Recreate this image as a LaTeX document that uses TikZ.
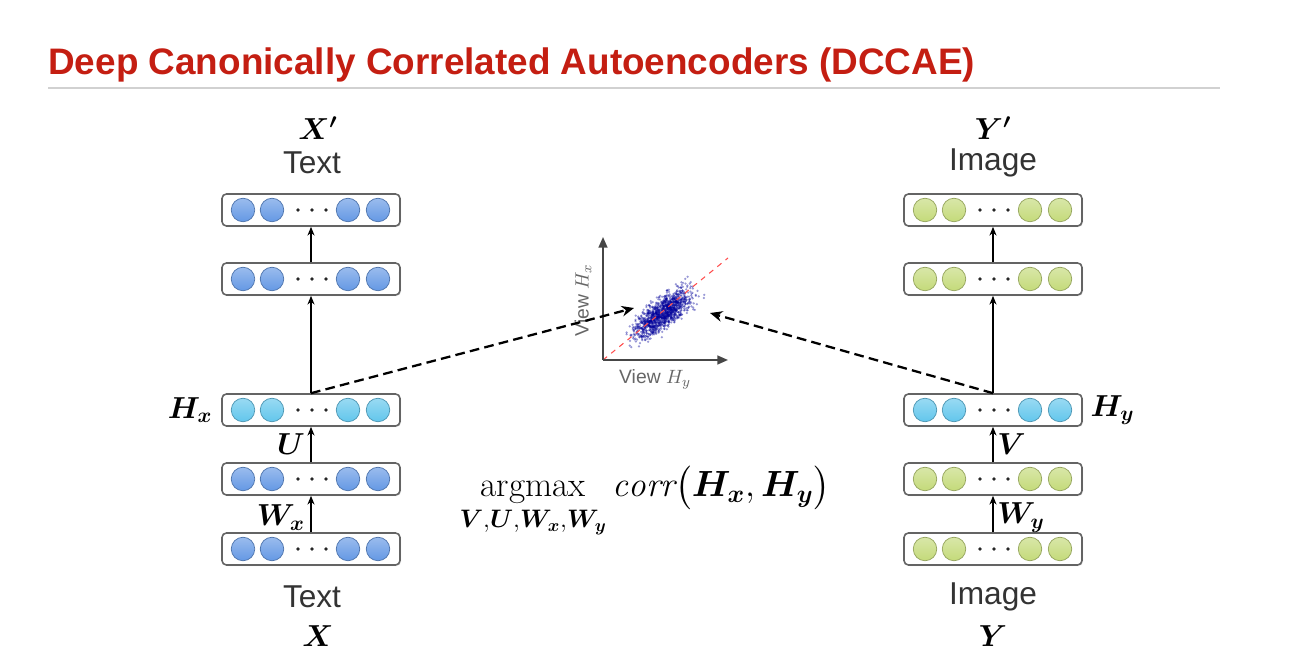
\documentclass[tikz,border=0pt]{standalone}
\usepackage{amsmath}
\usepackage{bm}
\usepackage{fontspec}
\usetikzlibrary{arrows.meta, positioning, shadows}
\newfontfamily\arial{Liberation Sans}
\definecolor{titlered}{RGB}{196,30,18}
\definecolor{unitblue}{RGB}{100,152,228}
\definecolor{unitcyan}{RGB}{98,198,236}
\definecolor{unitgreen}{RGB}{196,218,122}
\definecolor{boxgray}{RGB}{100,100,100}
\definecolor{axisgray}{RGB}{70,70,70}

\begin{document}
\begin{tikzpicture}[
    x=0.02cm, y=-0.02cm,
    layer/.style={draw=boxgray, line width=0.9pt, rounded corners=2.5pt, fill=white,
        minimum width=3.56cm, minimum height=0.64cm, inner sep=0pt,
        drop shadow={opacity=0.2, shadow xshift=0.6pt, shadow yshift=-0.6pt}},
    unit/.style={line width=0.4pt},
    uparrow/.style={-{Stealth[length=5pt, width=4pt]}, line width=1pt},
    link/.style={-{Stealth[length=7pt, width=6pt]}, line width=1.3pt, dash pattern=on 5.5pt off 3pt},
    axis/.style={-{Triangle[length=6pt, width=5pt]}, draw=axisgray, line width=1pt},
    word/.style={font=\arial\fontsize{18}{20}\selectfont, text=black!80},
    mathlbl/.style={font=\fontsize{17}{20}\selectfont, inner sep=0pt},
    plotlbl/.style={font=\arial\fontsize{11}{13}\selectfont, text=black!60, inner sep=0pt}
]
\useasboundingbox (0,0) rectangle (1296,668);

% title
\node[anchor=base west, inner sep=0pt, text=titlered, font=\arial\bfseries\fontsize{21}{24}\selectfont]
    (title) at (48,75) {Deep Canonically Correlated Autoencoders (DCCAE)};
\draw[black!18, line width=1.2pt] (48,88) -- (1220,88);

% layers of both networks
\foreach \nm/\px/\py/\col in {L0/311/210/unitblue, L1/311/279/unitblue, L2/311/410/unitcyan,
        L3/311/479/unitblue, L4/311/549/unitblue,
        R0/993/210/unitgreen, R1/993/279/unitgreen, R2/993/410/unitcyan,
        R3/993/479/unitgreen, R4/993/549/unitgreen} {
    \node[layer] (\nm) at (\px,\py) {};
    \foreach \dx in {-68,-39,37,67}
        \draw[unit, draw=\col!75!black, top color=\col!65!white, bottom color=\col]
            (\px+\dx,\py) circle[radius=0.235cm];
    \foreach \dx in {-13,1,15}
        \fill[black!85] (\px+\dx,\py) circle[radius=0.038cm];
}

% left network
\draw[uparrow] (L4) -- node[left, mathlbl, xshift=-3pt, yshift=-2pt] {$\bm{W}_{\bm{x}}$} (L3);
\draw[uparrow] (L3) -- node[left, mathlbl, xshift=-3pt] {$\bm{U}$} (L2);
\draw[uparrow] (L2) -- (L1);
\draw[uparrow] (L1) -- (L0);

% right network
\draw[uparrow] (R4) -- node[right, mathlbl, xshift=2pt, yshift=-2pt] {$\bm{W}_{\bm{y}}$} (R3);
\draw[uparrow] (R3) -- node[right, mathlbl, xshift=2pt] {$\bm{V}$} (R2);
\draw[uparrow] (R2) -- (R1);
\draw[uparrow] (R1) -- (R0);

\node[mathlbl, left=0.17cm of L2] (hx) {$\bm{H}_{\bm{x}}$};
\node[mathlbl, right=0.15cm of R2] (hy) {$\bm{H}_{\bm{y}}$};

\node[word] (txtout) at (312,163) {Text};
\node[mathlbl] (xout) at (318,128) {$\bm{X'}$};
\node[word] (txtin) at (312,597) {Text};
\node[mathlbl] (xin) at (318,636) {$\bm{X}$};
\node[word] (imgout) at (993,163) {Image};
\node[mathlbl] (yout) at (993,128) {$\bm{Y'}$};
\node[word] (imgin) at (993,597) {Image};
\node[mathlbl] (yin) at (993,636) {$\bm{Y}$};

% correlation plot
\coordinate (org) at (603,360);
\coordinate (yend) at (603,237);
\coordinate (xend) at (728,360);
\pgfmathsetseed{42}
\foreach \i in {1,...,1300} {
    \pgfmathsetmacro\u{17*(rand+rand+rand)}
    \pgfmathsetmacro\v{6.5*(rand+rand+rand)}
    \fill[blue!60!black, opacity=0.4] (663+0.777*\u+0.629*\v, 313-0.629*\u+0.777*\v) circle[radius=0.025cm];
}
\draw[red!70!white, dashed, line width=0.6pt] (org) -- (728,258);
\draw[axis] (org) -- (yend);
\draw[axis] (org) -- (xend);
\node[plotlbl, rotate=90] (vhx) at (583,300) {View $H_x$};
\node[plotlbl] (vhy) at (655,379) {View $H_y$};

\coordinate (hitL) at (634,308);
\coordinate (hitR) at (710,313);
\draw[link] (L2.north) -- (hitL);
\draw[link] (R2.north) -- (hitR);

% objective
\node[anchor=base, inner sep=0pt, font=\fontsize{20}{24}\selectfont] (obj) at (645,497)
    {$\displaystyle\operatorname*{argmax}_{\bm{V},\bm{U},\bm{W}_{\bm{x}},\bm{W}_{\bm{y}}}\mathit{corr}\big(\bm{H}_{\bm{x}},\bm{H}_{\bm{y}}\big)$};

\end{tikzpicture}
\end{document}
